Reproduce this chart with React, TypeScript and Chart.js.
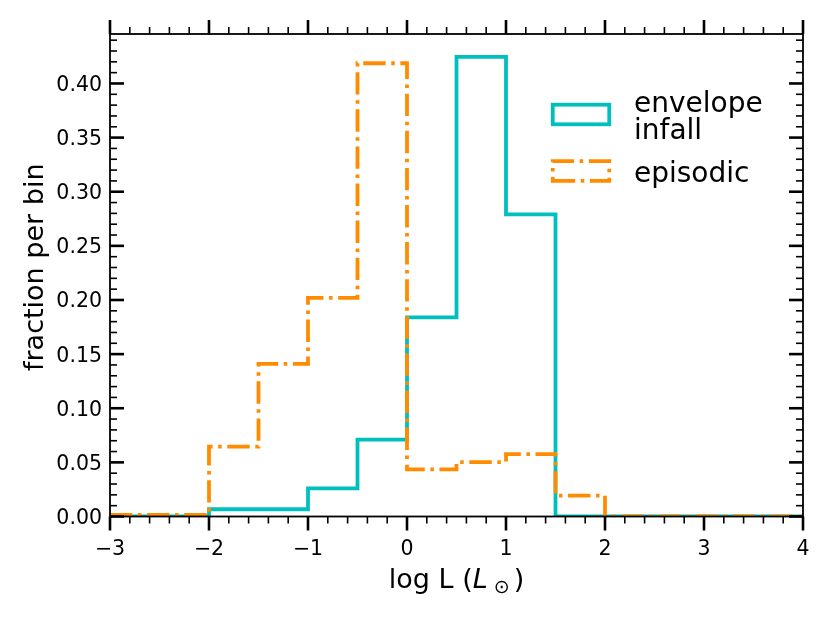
import { useEffect, useRef } from "react"
import { Chart, registerables } from "chart.js"

Chart.register(...registerables)

// bin edges of the histogram (log L), bins are 0.5 wide
const binEdges = [-3, -2.5, -2, -1.5, -1, -0.5, 0, 0.5, 1, 1.5, 2, 2.5, 3, 3.5, 4]
// fraction per bin, one value per bin
const envelopeInfall = [0, 0, 0.0067, 0.0067, 0.026, 0.071, 0.184, 0.4245, 0.279, 0, 0, 0, 0, 0]
const episodic = [0.0015, 0.0015, 0.0645, 0.141, 0.202, 0.4187, 0.0436, 0.0503, 0.0577, 0.0192, 0, 0, 0, 0]

const xTicks = [-3, -2, -1, 0, 1, 2, 3, 4]
const xTickLabels = ["\u22123", "\u22122", "\u22121", "0", "1", "2", "3", "4"]
const yTicks = [0, 0.05, 0.1, 0.15, 0.2, 0.25, 0.3, 0.35, 0.4]
const yTickLabels = ["0.00", "0.05", "0.10", "0.15", "0.20", "0.25", "0.30", "0.35", "0.40"]

const Y_MAX = 0.4457
const CYAN = "#00bfbf"
const ORANGE = "#ff8c00"
const LW = 3.8
const DASHDOT = [22.4, 5.6, 3.5, 5.6]
const FONT = '"DejaVu Sans"'

// point at every edge; with stepped "before" each bin takes its left edge's value
const stepPoints = (vals: number[]) =>
  binEdges.map((x, i) => ({ x, y: vals[Math.min(i, vals.length - 1)] }))

// frame, matplotlib-style ticks and labels, axis titles and legend
const decorations = {
  id: "decorations",
  afterDraw(chart: any) {
    const ctx = chart.ctx as CanvasRenderingContext2D
    const { left, right, top, bottom } = chart.chartArea
    const xs = chart.scales.x
    const ys = chart.scales.y
    ctx.save()
    ctx.strokeStyle = "#000"
    ctx.lineCap = "butt"

    ctx.lineWidth = 1.8
    ctx.strokeRect(left, top, right - left, bottom - top)

    const tick = (x1: number, y1: number, x2: number, y2: number, w: number) => {
      ctx.lineWidth = w
      ctx.beginPath()
      ctx.moveTo(x1, y1)
      ctx.lineTo(x2, y2)
      ctx.stroke()
    }

    // x ticks: outward on bottom and top
    for (let i = 0; i <= 35; i++) {
      const major = i % 5 === 0
      const px = xs.getPixelForValue(-3 + i * 0.2)
      const len = major ? 14 : 7
      const w = major ? 2.6 : 1.6
      tick(px, bottom, px, bottom + len, w)
      tick(px, top, px, top - len, w)
    }
    // y ticks: inward on left and right
    for (let i = 0; i * 0.01 <= Y_MAX; i++) {
      const major = i % 5 === 0
      const py = ys.getPixelForValue(i * 0.01)
      const len = major ? 14 : 7
      const w = major ? 2.6 : 1.6
      tick(left, py, left + len, py, w)
      tick(right, py, right - len, py, w)
    }

    ctx.fillStyle = "#000"
    ctx.textBaseline = "alphabetic"

    // tick labels
    ctx.font = `20.5px ${FONT}`
    ctx.textAlign = "center"
    xTicks.forEach((v, i) => {
      ctx.fillText(xTickLabels[i], xs.getPixelForValue(v), bottom + 38.5)
    })
    ctx.textAlign = "right"
    yTicks.forEach((v, i) => {
      ctx.fillText(yTickLabels[i], left - 8, ys.getPixelForValue(v) + 7.5)
    })

    // y title
    ctx.save()
    ctx.translate(43, (top + bottom) / 2 - 8)
    ctx.rotate(-Math.PI / 2)
    ctx.font = `27px ${FONT}`
    ctx.textAlign = "center"
    ctx.fillText("fraction per bin", 0, 0)
    ctx.restore()

    // x title: log L (L_sun)
    const parts = [
      { t: "log L (", f: `27px ${FONT}`, dy: 0, gap: 0 },
      { t: "L", f: `italic 27px ${FONT}`, dy: 0, gap: 0 },
      { t: "\u2299", f: `19px ${FONT}`, dy: 5, gap: 6 },
      { t: ")", f: `27px ${FONT}`, dy: 0, gap: 4 },
    ]
    let total = 0
    for (const p of parts) {
      ctx.font = p.f
      total += p.gap + ctx.measureText(p.t).width
    }
    let cx = (left + right) / 2 - total / 2
    ctx.textAlign = "left"
    for (const p of parts) {
      ctx.font = p.f
      cx += p.gap
      ctx.fillText(p.t, cx, 588 + p.dy)
      cx += ctx.measureText(p.t).width
    }

    // legend
    const bx = 552.75
    const bw = 56.5
    const bh = 19.6
    ctx.lineWidth = LW
    ctx.strokeStyle = CYAN
    ctx.strokeRect(bx, 114.5 - bh / 2, bw, bh)

    ctx.strokeStyle = ORANGE
    ctx.setLineDash(DASHDOT)
    ctx.beginPath()
    ctx.moveTo(bx, 171 + bh / 2)
    ctx.lineTo(bx + bw, 171 + bh / 2)
    ctx.lineTo(bx + bw, 171 - bh / 2)
    ctx.lineTo(bx, 171 - bh / 2)
    ctx.closePath()
    ctx.stroke()
    ctx.setLineDash([])

    ctx.font = `28px ${FONT}`
    ctx.fillText("envelope", 634, 111.5)
    ctx.fillText("infall", 634, 138.5)
    ctx.fillText("episodic", 634, 181.5)

    ctx.restore()
  },
}

export default function App() {
  const chartRef = useRef<HTMLCanvasElement>(null)
  const chartInstance = useRef<Chart | null>(null)

  useEffect(() => {
    if (!chartRef.current) return
    if (chartInstance.current) chartInstance.current.destroy()

    const ctx = chartRef.current.getContext("2d")
    if (!ctx) return

    chartInstance.current = new Chart(ctx, {
      type: "line",
      data: {
        datasets: [
          {
            label: "episodic",
            data: stepPoints(episodic),
            stepped: "before",
            borderColor: ORANGE,
            borderWidth: LW,
            borderDash: DASHDOT,
            borderCapStyle: "butt",
            pointRadius: 0,
            fill: false,
            order: 0,
          },
          {
            label: "envelope infall",
            data: stepPoints(envelopeInfall),
            stepped: "before",
            borderColor: CYAN,
            borderWidth: LW,
            borderCapStyle: "butt",
            pointRadius: 0,
            fill: false,
            order: 1,
          },
        ],
      },
      options: {
        animation: false,
        responsive: true,
        maintainAspectRatio: false,
        layout: { padding: { top: 34, right: 27, left: 0, bottom: 0 } },
        plugins: {
          legend: { display: false },
          tooltip: { enabled: false },
        },
        scales: {
          x: {
            type: "linear",
            min: -3,
            max: 4,
            afterBuildTicks: (s: any) => {
              s.ticks = xTicks.map((v) => ({ value: v }))
            },
            afterFit: (s: any) => {
              s.height = 106.5
            },
            grid: { display: false, drawTicks: false },
            border: { display: false },
            ticks: { display: false },
          },
          y: {
            type: "linear",
            min: 0,
            max: Y_MAX,
            afterBuildTicks: (s: any) => {
              s.ticks = yTicks.map((v) => ({ value: v }))
            },
            afterFit: (s: any) => {
              s.width = 110
            },
            grid: { display: false, drawTicks: false },
            border: { display: false },
            ticks: { display: false },
          },
        },
      },
      plugins: [decorations],
    })

    return () => {
      if (chartInstance.current) {
        chartInstance.current.destroy()
        chartInstance.current = null
      }
    }
  }, [])

  return (
    <div style={{ position: "fixed", left: 0, top: 0, width: 830, height: 623, background: "#fff" }}>
      <canvas ref={chartRef} />
    </div>
  )
}
